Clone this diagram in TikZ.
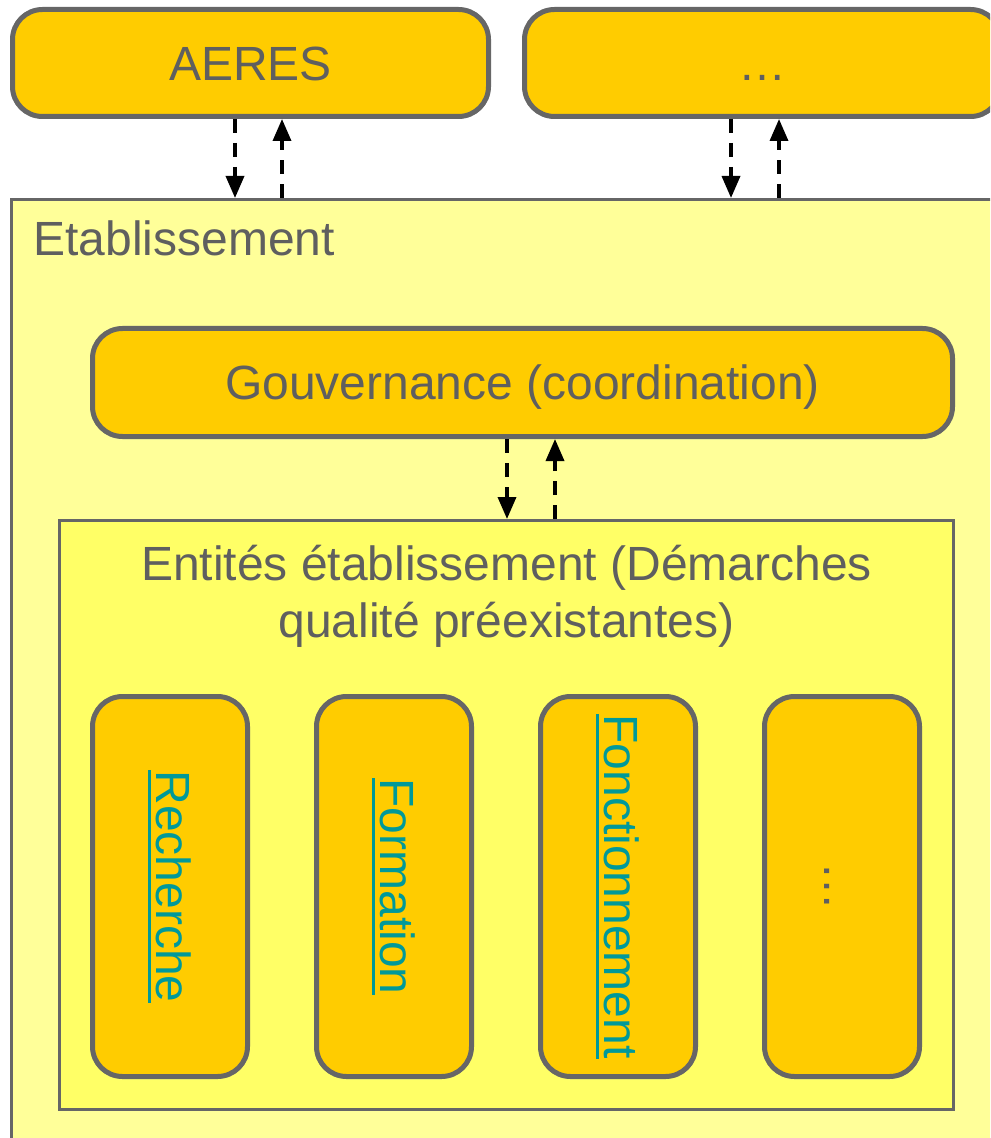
\documentclass[tikz,border=0pt]{standalone}
\usepackage{fontspec}
\setmainfont{Liberation Sans}
\usetikzlibrary{arrows.meta,positioning}

\definecolor{boxorange}{HTML}{FFCC00}
\definecolor{paleyellow}{HTML}{FFFF99}
\definecolor{midyellow}{HTML}{FFFF66}
\definecolor{edgegray}{HTML}{666666}
\definecolor{textgray}{HTML}{5F5F5F}
\definecolor{linkteal}{HTML}{009999}

\newsavebox\linkbox
\newcommand\linkword[1]{\sbox\linkbox{#1}\rlap{\rule[-4.25pt]{\wd\linkbox}{1.5pt}}\usebox\linkbox}

\begin{document}
\begin{tikzpicture}[x=0.5pt, y=-0.5pt,
	font=\fontsize{24}{28.5}\selectfont, text=textgray,
	unit/.style={draw=edgegray, fill=boxorange, line width=2.5pt,
		rounded corners=15pt, inner sep=0pt, text height=17.2pt, text depth=0pt},
	colbox/.style={unit, minimum width=77.5pt, minimum height=190pt},
	area/.style={draw=edgegray, line width=1.5pt, inner sep=0pt},
	flow/.style={draw=black, line width=1.75pt, dash pattern=on 7pt off 5pt,
		-{Triangle[length=11pt,width=9pt]}},
	vlabel/.style={rotate=-90, text=linkteal, inner sep=0pt}
	]
	\useasboundingbox (0,0) rectangle (990,1138);
	\clip (0,0) rectangle (990,1138);
	
	% outer boxes
	\node[unit, minimum width=238pt, minimum height=53.5pt] (aeres) at (250.5,63) {AERES};
	\node[unit, minimum width=238pt, minimum height=53.5pt] (other) at (762.5,63) {…};
	
	\node[area, fill=paleyellow, anchor=north west, minimum width=520pt, minimum height=500pt]
		(etab) at (10,198) {};
	\node[anchor=base west, inner sep=0pt] (etabtitle) at (33,256) {Etablissement};
	
	% governance
	\node[unit, minimum width=430pt, minimum height=54pt] (gouv) at (522.5,382.5)
		{Gouvernance (coordination)};
	
	% entities
	\node[area, fill=midyellow, minimum width=447pt, minimum height=294.5pt] (entites)
		at (506.5,815) {};
	\node[align=center, anchor=base, inner sep=0pt] (entitestitle) at (506.5,637)
		{Entités établissement (Démarches\\qualité préexistantes)};
	
	\node[colbox] (rech) at (170,886.5) {};
	\node[colbox] (form) at (394,886.5) {};
	\node[colbox] (fonc) at (618,886.5) {};
	\node[colbox] (more) at (842,886.5) {};
	
	\node[vlabel] at (rech.center) {\linkword{Recherche}};
	\node[vlabel] at (form.center) {\linkword{Formation}};
	\node[vlabel] at (fonc.center) {\linkword{Fonctionnement}};
	\node[rotate=-90, inner sep=0pt] at ([xshift=-7.5pt]more.center) {…};
	
	% exchanges
	\draw[flow] (235,0 |- aeres.south) -- (235,0 |- etab.north);
	\draw[flow] (282,0 |- etab.north) -- (282,0 |- aeres.south);
	\draw[flow] (731,0 |- other.south) -- (731,0 |- etab.north);
	\draw[flow] (779,0 |- etab.north) -- (779,0 |- other.south);
	\draw[flow] (507,0 |- gouv.south) -- (507,0 |- entites.north);
	\draw[flow] (555,0 |- entites.north) -- (555,0 |- gouv.south);
\end{tikzpicture}
\end{document}
